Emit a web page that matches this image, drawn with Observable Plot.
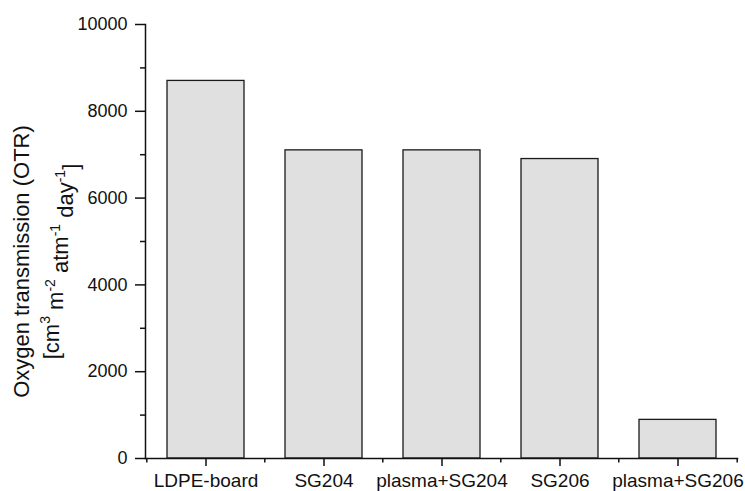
<!DOCTYPE html>
<html><head><meta charset="utf-8">
<script src="https://cdn.jsdelivr.net/npm/d3@7"></script>
<script src="https://cdn.jsdelivr.net/npm/@observablehq/plot@0.6"></script>
<style>body{margin:0;background:#fff}</style>
</head><body><div id="chart"></div>
<script>
const samples = ["LDPE-board","SG204","plasma+SG204","SG206","plasma+SG206"];
const otr = [8700,7100,7100,6900,890];
const yMajorTicks = [0,2000,4000,6000,8000,10000];
const yMinorTicks = [1000,3000,5000,7000,9000];
const yTitle1 = "Oxygen transmission (OTR)";
const yTitle2Parts = [["[cm",false],["3",true],[" m",false],["-2",true],[" atm",false],["-1",true],[" day",false],["-1",true],["]",false]];

const data = samples.map((s,i)=>({sample:s, otr:otr[i]}));
const W=745,H=491, mL=145, mR=8, mT=24, mB=33;
const step=(W-mL-mR)/samples.length;
const ink="#111";
const font="Liberation Sans, Arial, sans-serif";

const plot = Plot.plot({
  width:W,height:H,marginLeft:mL,marginRight:mR,marginTop:mT,marginBottom:mB,
  style:{fontFamily:font, color:ink, background:"#fff"},
  x:{domain:samples, paddingInner:0.35, paddingOuter:0.175, label:null, axis:null},
  y:{domain:[0,10000], label:null, axis:null},
  marks:[
    Plot.barY(data,{x:"sample",y:"otr",fill:"#e0e0e0",stroke:"#1a1a1a",strokeWidth:1.3}),
    Plot.frame({anchor:"left", stroke:ink, strokeWidth:1.5}),
    Plot.frame({anchor:"bottom", stroke:ink, strokeWidth:1.5}),
    Plot.axisY(yMajorTicks,{tickSize:10, tickPadding:8, fontSize:18, label:null, strokeWidth:1.5, tickFormat:d=>String(d), fontVariant:"normal"}),
    Plot.axisY(yMinorTicks,{tickSize:5, text:null, label:null, strokeWidth:1.5}),
    Plot.axisX(samples,{tickSize:8, tickPadding:7, fontSize:19, label:null, strokeWidth:1.5}),
    Plot.axisX(samples,{tickSize:4.5, text:null, label:null, strokeWidth:1.5, dx:-step/2}),
    Plot.axisX([samples[samples.length-1]],{tickSize:4.5, text:null, label:null, strokeWidth:1.5, dx:step/2}),
    Plot.text([yTitle1],{frameAnchor:"left", textAnchor:"middle", text:d=>d, rotate:-90, dx:-124, dy:20, fontSize:22, fill:ink}),
    Plot.text([yTitle2Parts.map(p=>p[0]).join("")],{frameAnchor:"left", textAnchor:"middle", text:d=>d, rotate:-90, dx:-94, dy:20, fontSize:22, fill:ink, className:"ylab2"})
  ]
});

// superscripts for the unit line
const t = plot.querySelector("g.ylab2 text");
if (t) {
  t.textContent = "";
  let raised = false;
  for (const [s, sup] of yTitle2Parts) {
    const ts = document.createElementNS("http://www.w3.org/2000/svg","tspan");
    ts.textContent = s;
    if (sup) { ts.setAttribute("font-size","14"); if (!raised) { ts.setAttribute("dy","-0.6em"); raised = true; } }
    else if (raised) { ts.setAttribute("dy","0.6em"); raised = false; }
    t.appendChild(ts);
  }
}
document.getElementById("chart").appendChild(plot);
</script>
</body></html>
